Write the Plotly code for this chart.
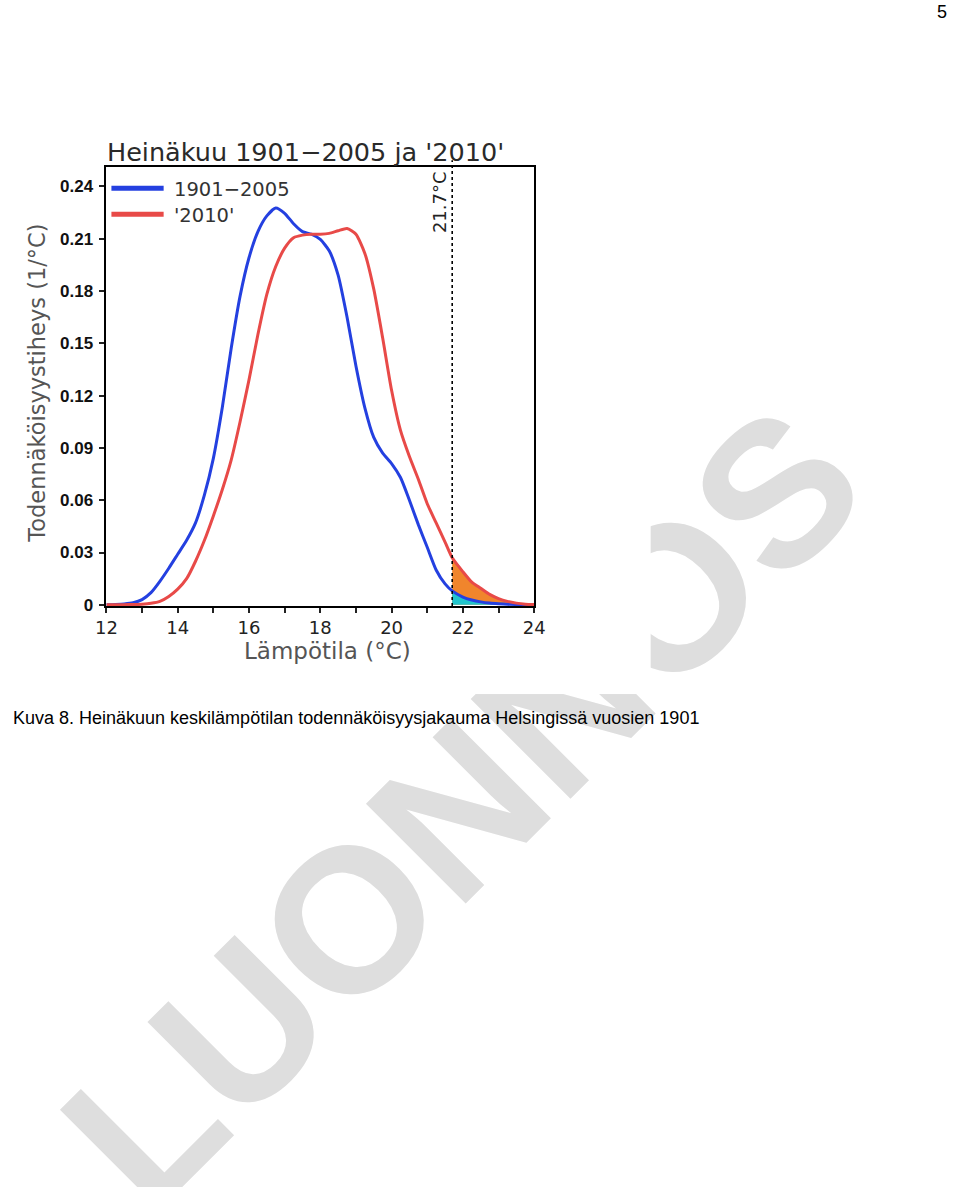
import plotly.graph_objects as go

# ---------------- data ----------------
temperature = [12.0, 12.25, 12.5, 12.75, 13.0, 13.25, 13.5, 13.75, 14.0, 14.25,
               14.5, 14.75, 15.0, 15.25, 15.5, 15.75, 16.0, 16.25, 16.5, 16.75,
               17.0, 17.25, 17.5, 17.75, 18.0, 18.25, 18.5, 18.75, 19.0, 19.25,
               19.5, 19.75, 20.0, 20.25, 20.5, 20.75, 21.0, 21.25, 21.5, 21.7,
               22.0, 22.25, 22.5, 22.75, 23.0, 23.25, 23.5, 23.75, 24.0]

density_1901_2005 = [0.0, 0.0002, 0.0005, 0.0012, 0.003, 0.007, 0.0135, 0.021, 0.029, 0.037,
                     0.047, 0.063, 0.084, 0.113, 0.147, 0.177, 0.199, 0.214, 0.223, 0.2275,
                     0.2245, 0.2185, 0.214, 0.2125, 0.2095, 0.203, 0.189, 0.165, 0.137, 0.113,
                     0.096, 0.087, 0.081, 0.073, 0.060, 0.046, 0.033, 0.020, 0.012, 0.008,
                     0.0045, 0.0028, 0.0017, 0.001, 0.0006, 0.0003, 0.0002, 0.0001, 0.0]

density_2010 = [0.0, 0.0, 0.0001, 0.0002, 0.0004, 0.0009, 0.002, 0.0048, 0.009, 0.015,
                0.025, 0.037, 0.051, 0.066, 0.083, 0.105, 0.129, 0.155, 0.178, 0.194,
                0.2045, 0.2105, 0.212, 0.2125, 0.2125, 0.213, 0.2145, 0.2158, 0.2125, 0.2015,
                0.181, 0.153, 0.123, 0.100, 0.085, 0.072, 0.058, 0.047, 0.036, 0.027,
                0.019, 0.013, 0.0095, 0.006, 0.0036, 0.002, 0.001, 0.0004, 0.0002]

threshold = 21.7
series_names = ["1901\u22122005", "'2010'"]
x_tick_values = [12, 14, 16, 18, 20, 22, 24]
y_tick_values = [0, 0.03, 0.06, 0.09, 0.12, 0.15, 0.18, 0.21, 0.24]
y_tick_labels = ["0", "0.03", "0.06", "0.09", "0.12", "0.15", "0.18", "0.21", "0.24"]

title_text = "Hein\u00e4kuu 1901\u22122005 ja '2010'"
x_title = "L\u00e4mp\u00f6tila (\u00b0C)"
y_title = "Todenn\u00e4k\u00f6isyystiheys (1/\u00b0C)"
caption = "Kuva 8. Hein\u00e4kuun keskil\u00e4mp\u00f6tilan todenn\u00e4k\u00f6isyysjakauma Helsingiss\u00e4 vuosien 1901"
page_number = "5"
watermark = "LUONNOS"

# ---------------- styling / placement ----------------
W, H = 960, 1196
# the rendered picture is slightly scaled relative to the figure; placement
# below is given in picture pixels and converted to figure fractions
SX, OX, SY = 0.973, 13.0, 0.991
BLUE = "#2440e0"
RED = "#e84a48"
ORANGE = "#f0852c"
CYAN = "#20c4cc"
GRADS_FONT = "DejaVu Sans"


def px(xp):
    return ((xp - OX) / SX) / W


def py(yp):
    return 1 - (yp / SY) / H


tail_idx = [i for i, t in enumerate(temperature) if t >= threshold]
tail_t = [temperature[i] for i in tail_idx]
tail_blue = [density_1901_2005[i] for i in tail_idx]
tail_red = [density_2010[i] for i in tail_idx]

fig = go.Figure()

# watermark layer (full-page subplot, drawn first so the chart image covers it)
fig.add_trace(go.Bar(
    x=[462], y=[20], base=[H - 805 - 10], width=[20],
    xaxis="x", yaxis="y",
    marker=dict(color="rgba(0,0,0,0)", line=dict(width=0)),
    text=[watermark], textposition="inside", insidetextanchor="middle",
    textangle=-45, constraintext="none",
    insidetextfont=dict(family="Liberation Sans", size=205, color="#dedede", weight="bold"),
    hoverinfo="skip", showlegend=False,
))

# white "image" area that covers the watermark
fig.add_trace(go.Scatter(x=[], y=[], xaxis="x2", yaxis="y2", showlegend=False, hoverinfo="skip"))

# chart: tail fills
fig.add_trace(go.Scatter(
    x=tail_t, y=tail_red, xaxis="x3", yaxis="y3", mode="lines",
    line=dict(width=0, shape="spline", smoothing=0.6), fill="tozeroy", fillcolor=ORANGE,
    showlegend=False, hoverinfo="skip",
))
fig.add_trace(go.Scatter(
    x=tail_t, y=tail_blue, xaxis="x3", yaxis="y3", mode="lines",
    line=dict(width=0, shape="spline", smoothing=0.6), fill="tozeroy", fillcolor=CYAN,
    showlegend=False, hoverinfo="skip",
))

# chart: curves
fig.add_trace(go.Scatter(
    x=temperature, y=density_1901_2005, xaxis="x3", yaxis="y3", mode="lines",
    name=series_names[0], line=dict(color=BLUE, width=3, shape="spline", smoothing=0.6),
    showlegend=False,
))
fig.add_trace(go.Scatter(
    x=temperature, y=density_2010, xaxis="x3", yaxis="y3", mode="lines",
    name=series_names[1], line=dict(color=RED, width=3, shape="spline", smoothing=0.6),
    showlegend=False,
))

hidden = dict(visible=False, showgrid=False, zeroline=False)

fig.update_layout(
    width=W, height=H,
    margin=dict(l=0, r=0, t=0, b=0),
    paper_bgcolor="white", plot_bgcolor="white",
    showlegend=False,
    xaxis=dict(domain=[0, 1], range=[OX, OX + SX * W], anchor="y", **hidden),
    yaxis=dict(domain=[0, 1], range=[H - SY * H, H], anchor="x", **hidden),
    xaxis2=dict(domain=[0, px(650)], range=[0, 1], anchor="y2", **hidden),
    yaxis2=dict(domain=[py(693), 1], range=[0, 1], anchor="x2", **hidden),
    xaxis3=dict(
        domain=[px(108), px(534)], range=[12, 24], anchor="y3",
        tickvals=x_tick_values, ticks="outside", ticklen=5, tickwidth=1.5, tickcolor="#222",
        minor=dict(dtick=1, tick0=12, ticks="outside", ticklen=5, tickwidth=1.5, tickcolor="#222"),
        showline=True, linecolor="black", linewidth=1.8, mirror=True,
        showgrid=False, zeroline=False,
        tickfont=dict(family=GRADS_FONT, size=18, color="#222"),
    ),
    yaxis3=dict(
        domain=[py(605), py(167)], range=[-0.0006, 0.2509], anchor="x3",
        tickvals=y_tick_values, ticktext=y_tick_labels,
        ticks="outside", ticklen=5, tickwidth=1.5, tickcolor="#222", ticklabelstandoff=3,
        showline=True, linecolor="black", linewidth=1.8, mirror=True,
        showgrid=False, zeroline=False,
        tickfont=dict(family="Liberation Sans", size=17, color="#111", weight="bold"),
    ),
)

# threshold line
fig.add_shape(type="line", xref="x3", yref="paper", x0=threshold, x1=threshold,
              y0=py(605), y1=py(160), line=dict(color="black", width=1.6, dash="dot"),
              layer="above")

# legend (manual, like the original)
fig.add_shape(type="line", xref="paper", yref="paper", x0=px(113), x1=px(165),
              y0=py(188), y1=py(188), line=dict(color=BLUE, width=5))
fig.add_shape(type="line", xref="paper", yref="paper", x0=px(113), x1=px(165),
              y0=py(214), y1=py(214), line=dict(color=RED, width=5))

ann = [
    dict(text=title_text, x=px(107), y=py(152), xanchor="left", yanchor="middle",
         font=dict(family=GRADS_FONT, size=25.5, color="#2a2a2a")),
    dict(text=series_names[0], x=px(173), y=py(189), xanchor="left", yanchor="middle",
         font=dict(family=GRADS_FONT, size=19.5, color="#333")),
    dict(text=series_names[1], x=px(173), y=py(215), xanchor="left", yanchor="middle",
         font=dict(family=GRADS_FONT, size=19.5, color="#333")),
    dict(text=y_title, x=px(38), y=py(383), xanchor="center", yanchor="middle", textangle=-90,
         font=dict(family=GRADS_FONT, size=22.5, color="#555")),
    dict(text=x_title, x=px(328), y=py(650), xanchor="center", yanchor="middle",
         font=dict(family=GRADS_FONT, size=23, color="#555")),
    dict(text=f"{threshold}\u00b0C", x=px(440), y=py(202), xanchor="center", yanchor="middle",
         textangle=-90, font=dict(family=GRADS_FONT, size=18, color="#222")),
    dict(text=caption, x=0, y=py(717), xanchor="left", yanchor="middle",
         font=dict(family="Liberation Sans", size=18, color="black")),
    dict(text=page_number, x=1, y=py(12), xanchor="right", yanchor="middle",
         font=dict(family="Liberation Sans", size=18, color="black")),
]
for a in ann:
    a.update(xref="paper", yref="paper", showarrow=False)
fig.update_layout(annotations=ann)

fig.write_html("out.html")
